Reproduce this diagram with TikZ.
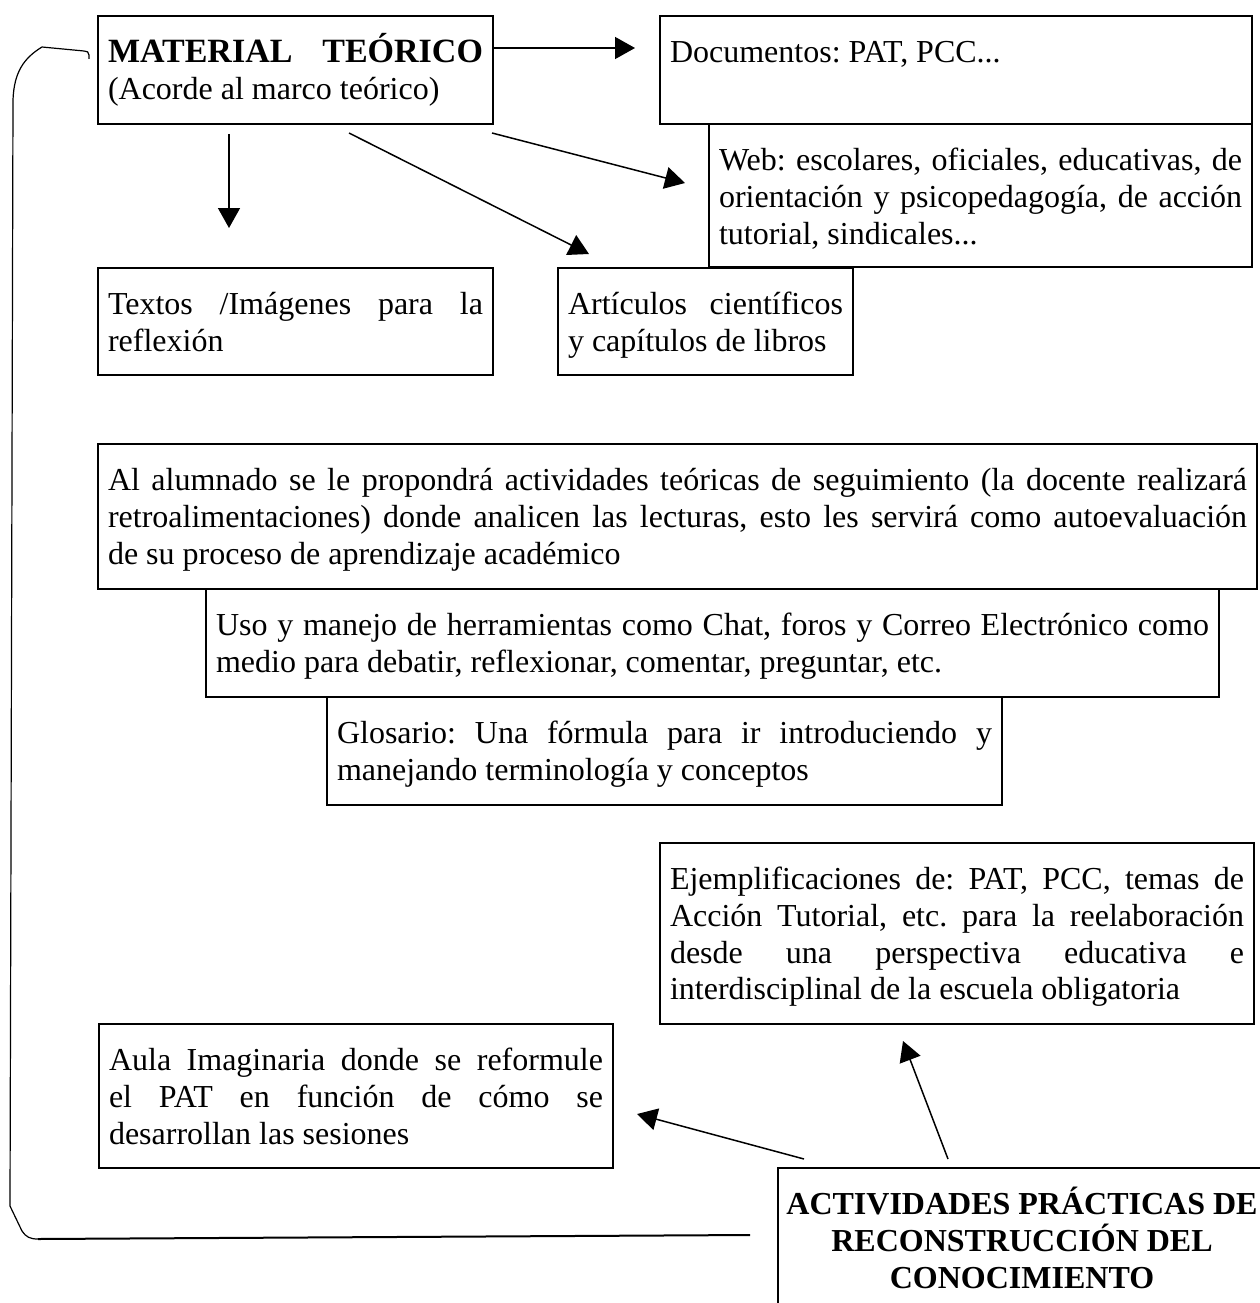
\documentclass[tikz,border=0pt]{standalone}
\usepackage{fontspec}
\setmainfont{Liberation Serif}
\usetikzlibrary{arrows.meta}
\tolerance=10000 \hbadness=10000 \hfuzz=60pt \hyphenpenalty=10000 \exhyphenpenalty=10000
\frenchspacing
\newcommand\boxtext[3]{\parbox[c][#2pt][t]{#1pt}{\fontsize{32}{36.8}\selectfont\frenchspacing\rule{0pt}{46.5pt}#3}}
\tikzset{
  bx/.style={draw, line width=2pt, inner xsep=10pt, inner ysep=0pt, anchor=north west},
  arr/.style={line width=1.5pt, -{Triangle[length=20pt,width=22pt]}},
  brk/.style={line width=1.2pt, line join=round}
}
\begin{document}
\begin{tikzpicture}[x=1pt,y=-1pt]
\useasboundingbox (0,0) rectangle (1260,1303);
% boxes
\node[bx] (mat) at (97,15) {\boxtext{375}{108}{{\fontsize{34}{36.8}\selectfont\textbf{MATERIAL\hfill TEÓRICO}}\\(Acorde al marco teórico)}};
\node[bx] (doc) at (659,15) {\boxtext{572}{108}{Documentos: PAT, PCC...}};
\node[bx] (web) at (708,123) {\boxtext{523}{143}{Web: escolares, oficiales, educativas, de\linebreak orientación y psicopedagogía, de acción\linebreak tutorial, sindicales...}};
\node[bx] (tex) at (97,267) {\boxtext{375}{107}{Textos /Imágenes para la\linebreak reflexión}};
\node[bx] (art) at (557,267) {\boxtext{275}{107}{Artículos científicos\linebreak y capítulos de libros}};
\node[bx] (alu) at (97,443) {\boxtext{1139}{145}{Al alumnado se le propondrá actividades teóricas de seguimiento (la docente realizará\linebreak retroalimentaciones) donde analicen las lecturas, esto les servirá como autoevaluación\linebreak de su proceso de aprendizaje académico}};
\node[bx] (uso) at (205,588) {\boxtext{993}{108}{Uso y manejo de herramientas como Chat, foros y Correo Electrónico como\linebreak medio para debatir, reflexionar, comentar, preguntar, etc.}};
\node[bx] (glo) at (326,696) {\boxtext{655}{108}{Glosario: Una fórmula para ir introduciendo y\linebreak manejando terminología y conceptos}};
\node[bx] (eje) at (659,842) {\boxtext{574}{181}{Ejemplificaciones de: PAT, PCC, temas de\linebreak Acción Tutorial, etc. para la reelaboración\linebreak desde una perspectiva educativa e\linebreak interdisciplinal de la escuela obligatoria}};
\node[bx] (aul) at (98,1023) {\boxtext{494}{144}{Aula Imaginaria donde se reformule\linebreak el PAT en función de cómo se\linebreak desarrollan las sesiones}};
\node[bx] (act) at (777,1167) {\boxtext{468}{150}{\bfseries\makebox[\linewidth]{ACTIVIDADES PRÁCTICAS DE}\\\makebox[\linewidth]{RECONSTRUCCIÓN DEL}\\\makebox[\linewidth]{CONOCIMIENTO}}};
% connector ends
\coordinate (a0) at (493,48);
\coordinate (a1) at (635,48);
\coordinate (b0) at (229,134);
\coordinate (b1) at (229,228);
\coordinate (c0) at (349,133);
\coordinate (c1) at (589,254);
\coordinate (d0) at (492,133);
\coordinate (d1) at (685,183);
\coordinate (e0) at (804,1159);
\coordinate (e1) at (637,1114);
\coordinate (f0) at (948,1159);
\coordinate (f1) at (903,1041);
\draw[arr] (a0) -- (a1);
\draw[arr] (b0) -- (b1);
\draw[arr] (c0) -- (c1);
\draw[arr] (d0) -- (d1);
\draw[arr] (e0) -- (e1);
\draw[arr] (f0) -- (f1);
% return bracket
\coordinate (r0) at (89,59);
\coordinate (r1) at (750,1235);
\draw[brk] (r0) -- (89,55) .. controls (89,52) and (87,51) .. (84,51) -- (42,47)
  .. controls (24,58) and (14,72) .. (13,100) -- (10,1206) -- (22,1231)
  .. controls (26,1237) and (30,1239) .. (38,1239);
\draw[line width=2pt] (38,1239) -- (r1);
\end{tikzpicture}
\end{document}
